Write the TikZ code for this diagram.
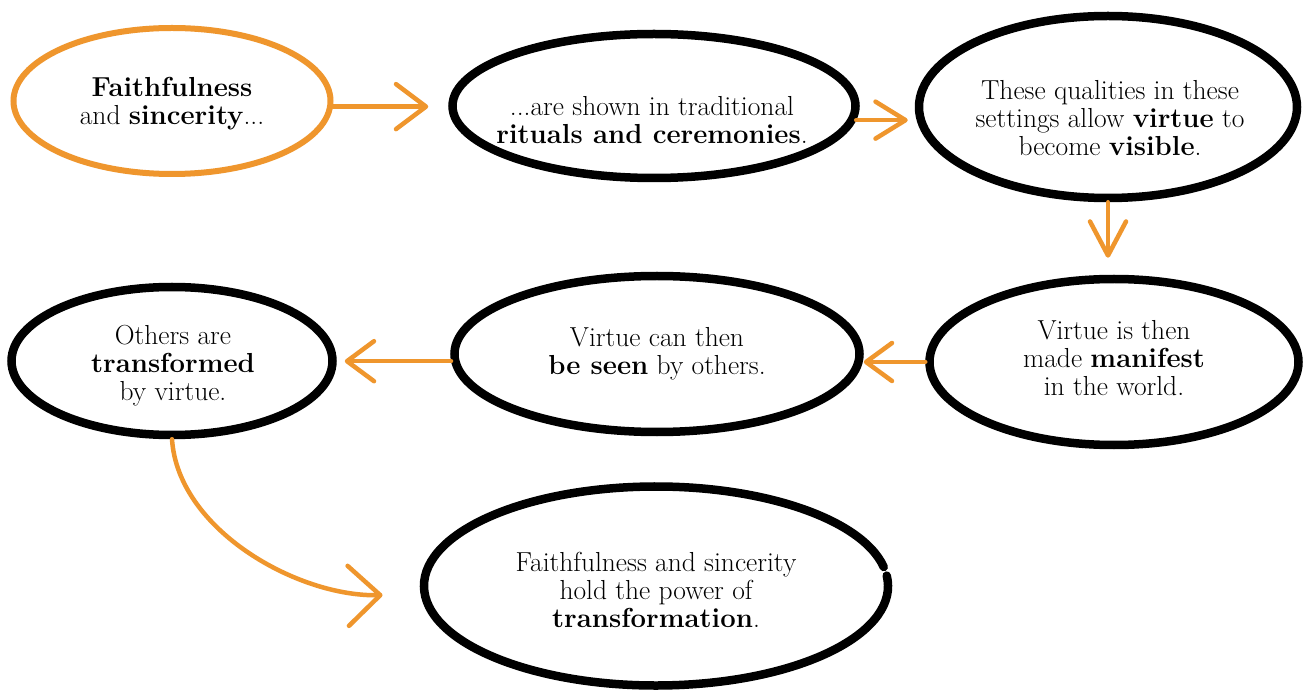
\documentclass[tikz,border=0pt]{standalone}
\usepackage{fontspec}
\usetikzlibrary{shapes.geometric,arrows.meta}
\definecolor{orng}{RGB}{239,150,45}
\begin{document}
\begin{tikzpicture}[x=1pt,y=-1pt,
  ell/.style={ellipse, draw=black, line width=8.5pt, inner sep=0pt},
  oell/.style={ellipse, draw=orng, line width=6pt, inner sep=0pt},
  txt/.style={align=center, font=\fontsize{27.5}{28}\selectfont, inner sep=0pt},
  arr/.style={draw=orng, line width=4.5pt, line cap=round,
    -{Straight Barb[round, length=#1]}},
  arr/.default={28pt, width=42pt}]
\useasboundingbox[fill=white] (0,0) rectangle (1309,692);

% ellipses
\node[oell, minimum width=317pt, minimum height=146pt] (e1) at (172,101) {};
\node[ell, minimum width=403pt, minimum height=144pt] (e2) at (654,106) {};
\node[ell, minimum width=378pt, minimum height=182pt] (e3) at (1108,107) {};
\node[ell, minimum width=369pt, minimum height=166pt] (e4) at (1114,362) {};
\node[ell, minimum width=405pt, minimum height=156pt] (e5) at (657,354) {};
\node[ell, minimum width=321pt, minimum height=148pt] (e6) at (172,361) {};
\node[ell, draw=none, minimum width=464pt, minimum height=199pt] (e7) at (656,586) {};
\draw[black, line width=8.5pt, line cap=round]
  ([shift={(-6:232 and 99.5)}]e7.center)
  arc[start angle=-6, end angle=349, x radius=232, y radius=99.5];

% texts
\node[txt] (t1) at (172,104) {\textbf{Faithfulness}\\and \textbf{sincerity}...};
\node[txt] (t2) at (652,120) {...are shown in traditional\\\textbf{rituals and ceremonies}.};
\node[txt] (t3) at (1110,118) {These qualities in these\\settings allow \textbf{virtue} to\\become \textbf{visible}.};
\node[txt] (t4) at (1114,358) {Virtue is then\\made \textbf{manifest}\\in the world.};
\node[txt] (t5) at (657,354) {Virtue can then\\\textbf{be seen} by others.};
\node[txt] (t6) at (173,366) {Others are\\\textbf{transformed}\\by virtue.};
\node[txt] (t7) at (656,590) {Faithfulness and sincerity\\hold the power of\\\textbf{transformation}.};

% arrows
\draw[arr={30pt, width=45pt}, shorten >=20pt] (e1.-2.5) -- (e1.-2.5 -| e2.west);
\draw[arr={30pt, width=37pt}, shorten >=7pt] (e2.-4.2) -- (e2.-4.2 -| e3.west);
\draw[arr={34pt, width=36pt}, shorten >=17pt] (e3.south) -- (e3.south |- e4.north);
\draw[arr={26pt, width=38pt}] (e4.west) -- (e4.west -| e5.east);
\draw[arr={27pt, width=40pt}, shorten >=8pt] (e5.182) -- (e5.182 -| e6.east);
\draw[arr={32pt, width=60pt}, shorten >=38pt] (e6.south)
  .. controls (178,530) and (298,597) .. (e7.182);
\end{tikzpicture}
\end{document}
